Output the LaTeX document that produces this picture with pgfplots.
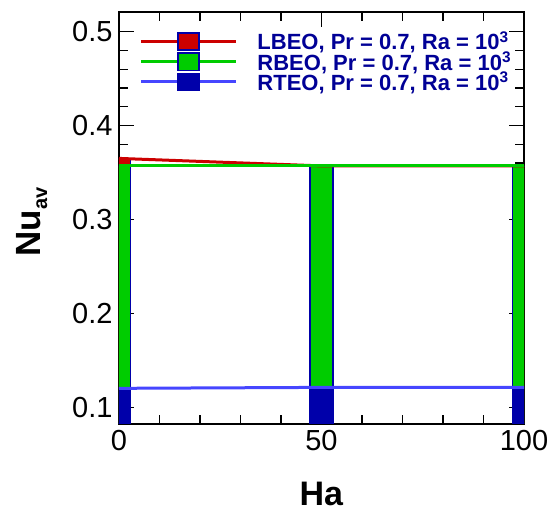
\documentclass[border=0pt]{standalone}
\usepackage{fontspec}
\setmainfont{Liberation Sans}
\usepackage{pgfplots}
\pgfplotsset{compat=1.18}
\definecolor{cred}{RGB}{204,0,0}
\definecolor{cgreen}{RGB}{0,204,0}
\definecolor{cblue}{RGB}{0,0,170}
\definecolor{cline}{RGB}{70,70,255}
\definecolor{cleg}{RGB}{0,0,150}

\begin{document}
\begin{tikzpicture}
\begin{axis}[
    scale only axis,
    width=405pt, height=412pt,
    xmin=0, xmax=100, ymin=0.082, ymax=0.521,
    xtick={0,50,100}, ytick={0.1,0.2,0.3,0.4,0.5},
    minor x tick num=4, minor y tick num=4,
    tick align=inside,
    major tick length=15pt, minor tick length=9pt,
    every tick/.style={black, line width=1.2pt},
    axis line style={line width=2.5pt},
    /pgf/number format/assume math mode=true,
    ticklabel style={font=\fontsize{29}{32}\selectfont},
    yticklabel style={/pgf/number format/fixed, /pgf/number format/precision=1, xshift=-3pt},
    xticklabel style={yshift=-3pt},
    xlabel={\textbf{Ha}},
    ylabel={\textbf{Nu}\raisebox{-0.35ex}{\fontsize{20}{22}\selectfont\bfseries av}},
    xlabel style={font=\fontsize{34}{36}\selectfont, at={(axis description cs:0.5,-0.17)}, anchor=center, inner sep=0pt},
    ylabel style={font=\fontsize{35}{38}\selectfont, at={(axis description cs:-0.215,0.49)}, anchor=center, rotate=0},
    legend style={at={(axis description cs:0.05,0.958)}, anchor=north west, draw=none, fill=none,
        font=\bfseries\fontsize{22}{22}\selectfont, text=cleg, row sep=-3.5pt,
        inner sep=0pt},
    legend cell align=left,
    legend image code/.code={
        \draw (0pt,0pt) -- (95pt,0pt);
        \draw plot coordinates {(47.5pt,0pt)};
        \path (0pt,0pt) (113pt,0pt);},
]
% bars (overlaid)
\addplot[ybar, bar width=5.8, bar shift=0pt, fill=cred, draw=cblue, line width=1.5pt, forget plot]
    coordinates {(0,0.365) (50,0.357) (100,0.357)};
\addplot[ybar, bar width=5.8, bar shift=0pt, fill=cgreen, draw=cblue, line width=1.5pt, forget plot]
    coordinates {(0,0.357) (50,0.357) (100,0.357)};
\addplot[ybar, bar width=5.8, bar shift=0pt, fill=cblue, draw=cblue, line width=1.5pt, forget plot]
    coordinates {(0,0.120) (50,0.121) (100,0.121)};
% lines
\addplot[cred, line width=3pt, forget plot] coordinates {(0,0.365) (50,0.357) (100,0.357)};
\addplot[cgreen, line width=3pt, forget plot] coordinates {(0,0.357) (50,0.357) (100,0.357)};
\addplot[cline, line width=3pt, forget plot] coordinates {(0,0.120) (50,0.121) (100,0.121)};
% legend entries
\addlegendimage{cred, line width=3pt, mark=square*, mark size=8.6pt, mark options={fill=cred, draw=cblue, line width=1.5pt, xscale=1.2}}
\addlegendentry{LBEO, Pr = 0.7, Ra = 10\textsuperscript{3}}
\addlegendimage{cgreen, line width=3pt, mark=square*, mark size=8.6pt, mark options={fill=cgreen, draw=cblue, line width=1.5pt, xscale=1.2}}
\addlegendentry{RBEO, Pr = 0.7, Ra = 10\textsuperscript{3}}
\addlegendimage{cline, line width=3pt, mark=square*, mark size=8.6pt, mark options={fill=cblue, draw=cblue, line width=1.5pt, xscale=1.2}}
\addlegendentry{RTEO, Pr = 0.7, Ra = 10\textsuperscript{3}}
\coordinate (sw) at (rel axis cs:0,0);
\coordinate (ne) at (rel axis cs:1,1);
\end{axis}
\pgfresetboundingbox
\path (sw) +(-119pt,-91pt) (ne) +(27pt,12pt);
\end{tikzpicture}
\end{document}
